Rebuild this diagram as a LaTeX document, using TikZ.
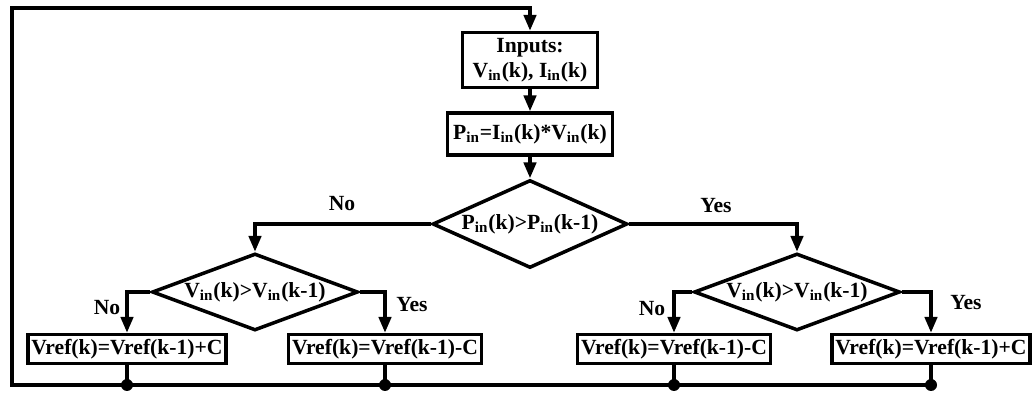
\documentclass[tikz,border=0pt]{standalone}
\usepackage{fontspec}
\setmainfont{Liberation Serif}
\usetikzlibrary{arrows.meta,shapes.geometric}
\def\txtfont{\fontsize{12.3}{14}\selectfont\bfseries}
\tikzset{
	wire/.style={line width=2pt},
	flow/.style={line width=2pt, -{Triangle[length=9pt,width=7pt]}},
	procbox/.style={draw, line width=2pt, inner xsep=2pt, inner ysep=1pt, minimum height=0.58cm, align=center, font=\txtfont},
	testbox/.style={draw, diamond, line width=2pt, inner sep=0pt, font=\txtfont},
	lbl/.style={font=\txtfont}
}

\begin{document}
\begin{tikzpicture}[x=0.02cm, y=-0.02cm]
		%%%%% START %%%%%
		\useasboundingbox (0,0) rectangle (1035,394);
		
		\node[procbox, minimum width=2.7cm, minimum height=1.1cm] (inputs) at (530,60) {Inputs:\\V\textsubscript{in}(k), I\textsubscript{in}(k)};
		\node[procbox, minimum width=3.3cm, minimum height=0.84cm] (power) at (530,134) {P\textsubscript{in}=I\textsubscript{in}(k)*V\textsubscript{in}(k)};
		
		\node[testbox, aspect=2.2, minimum width=3.9cm, minimum height=1.76cm] (cmpP) at (530,224) {P\textsubscript{in}(k)>P\textsubscript{in}(k-1)};
		\node[testbox, aspect=2.7, minimum width=4.12cm, minimum height=1.54cm] (cmpVa) at (255,292) {V\textsubscript{in}(k)>V\textsubscript{in}(k-1)};
		\node[testbox, aspect=2.7, minimum width=4.12cm, minimum height=1.54cm] (cmpVb) at (797,292) {V\textsubscript{in}(k)>V\textsubscript{in}(k-1)};
		
		\node[procbox] (incA) at (127,349) {Vref(k)=Vref(k-1)+C};
		\node[procbox] (decA) at (385,349) {Vref(k)=Vref(k-1)-C};
		\node[procbox] (decB) at (674,349) {Vref(k)=Vref(k-1)-C};
		\node[procbox] (incB) at (931,349) {Vref(k)=Vref(k-1)+C};
		
		\node[lbl] (noP) at (342,204) {No};
		\node[lbl] (yesP) at (716,206) {Yes};
		\node[lbl] (noA) at (107,308) {No};
		\node[lbl] (yesA) at (412,305) {Yes};
		\node[lbl] (noB) at (652,309) {No};
		\node[lbl] (yesB) at (966,303) {Yes};
		
		\coordinate (busL) at (12,385);
		\coordinate (busTop) at (12,8);
		
		\draw[flow] (inputs) -- (power);
		\draw[flow] (power) -- (cmpP);
		\draw[flow] (cmpP.west) -| (cmpVa.north);
		\draw[flow] (cmpP.east) -| (cmpVb.north);
		\draw[flow] (cmpVa.west) -| (incA.north);
		\draw[flow] (cmpVa.east) -| (decA.north);
		\draw[flow] (cmpVb.west) -| (decB.north);
		\draw[flow] (cmpVb.east) -| (incB.north);
		
		\foreach \n in {incA,decA,decB,incB}{
			\draw[wire] (\n.south) -- (\n.south |- busL);
			\fill (\n.south |- busL) circle (0.12cm);
		}
		\draw[flow] (incB.south |- busL) -- (busL) -- (busTop) -| (inputs.north);
		%%%%% END %%%%%
	\end{tikzpicture}
\end{document}
